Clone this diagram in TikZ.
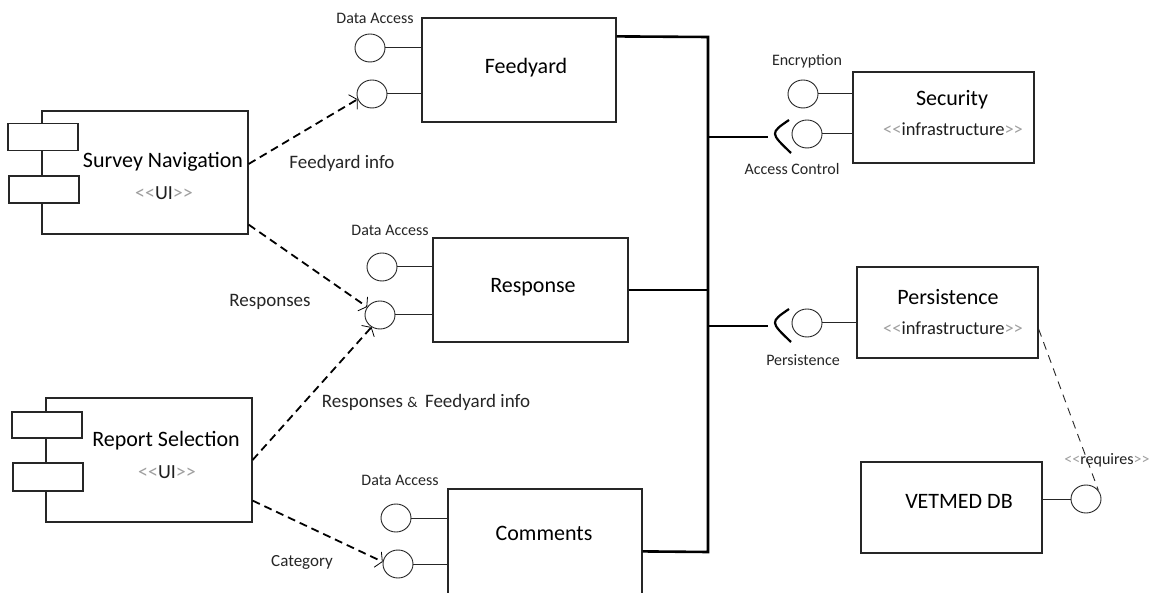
\documentclass[tikz,border=0pt]{standalone}
\usepackage{fontspec}
\setmainfont{Carlito}
\usetikzlibrary{arrows.meta,shapes.geometric,calc}
\newcommand\stereo[1]{{\color{gray!75}<{}<}{\color{black!88}#1}{\color{gray!75}>{}>}}
\begin{document}
\begin{tikzpicture}[x=1pt,y=-1pt,
  box/.style={draw=black!85,line width=1.2pt,fill=white,inner sep=0pt,rectangle},
  tab/.style={draw=black!85,line width=1.2pt,fill=white,inner sep=0pt,rectangle,minimum width=70,minimum height=27},
  iface/.style={draw=black!85,line width=0.9pt,ellipse,minimum width=30,minimum height=28,inner sep=0pt,fill=white},
  title/.style={font=\fontsize{22}{24}\selectfont,inner sep=0pt},
  stlab/.style={font=\fontsize{20}{22}\selectfont,inner sep=0pt},
  small/.style={font=\fontsize{16}{18}\selectfont,text=black!85,inner sep=0pt},
  mid/.style={font=\fontsize{19}{21}\selectfont,text=black!85,inner sep=0pt},
  lnk/.style={draw=black!85,line width=1pt},
  bus/.style={draw=black,line width=2.6pt},
  sock/.style={draw=black,line width=2.2pt},
  dep/.style={draw=black,line width=1.8pt,dash pattern=on 8pt off 5pt,
    -{Straight Barb[length=5pt,width=17pt,line width=0.8pt]}},
  req/.style={draw=black!85,line width=0.9pt,dash pattern=on 8pt off 6pt}
]
\clip (0,0) rectangle (1151,593);
\fill[white] (0,0) rectangle (1151,593);

% UI components
\node[box,minimum width=206,minimum height=123] (sn) at (145,172.5) {};
\node[tab] (snt1) at (43,137) {};
\node[tab] (snt2) at (44,189.5) {};
\node[title] (snl) at (163,162) {Survey Navigation};
\node[stlab] (sns) at (164,193) {\stereo{UI}};

\node[box,minimum width=206,minimum height=124] (rs) at (149,460) {};
\node[tab,minimum height=26] (rst1) at (47,425) {};
\node[tab,minimum height=28] (rst2) at (48,477) {};
\node[title] (rsl) at (166,441) {Report Selection};
\node[stlab] (rss) at (167,472) {\stereo{UI}};

% business components
\node[box,minimum width=194,minimum height=104] (fy) at (519,70) {};
\node[title] (fyl) at (526,68) {Feedyard};
\node[box,minimum width=195,minimum height=104] (rp) at (530.5,290) {};
\node[title] (rpl) at (533,287) {Response};
\node[box,minimum width=194,minimum height=111] (cm) at (545,544.5) {};
\node[title] (cml) at (544,533) {Comments};

% infrastructure
\node[box,minimum width=181,minimum height=91] (sec) at (943.5,117.5) {};
\node[title] (secl) at (952,100) {Security};
\node[stlab,font=\fontsize{18.5}{20}\selectfont] (secs) at (953,129) {\stereo{infrastructure}};
\node[box,minimum width=181,minimum height=91] (per) at (947.5,312.5) {};
\node[title] (perl) at (948,297) {Persistence};
\node[stlab,font=\fontsize{18.5}{20}\selectfont] (pers) at (953,328) {\stereo{infrastructure}};
\node[box,minimum width=181,minimum height=91] (db) at (951.5,507.5) {};
\node[title] (dbl) at (959,501) {VETMED DB};

% interfaces
\node[iface] (fy1) at (370,48) {};
\node[iface] (fy2) at (372,94) {};
\node[iface] (rp1) at (382,267) {};
\node[iface] (rp2) at (380,315) {};
\node[iface] (cm1) at (396,518) {};
\node[iface] (cm2) at (398,564) {};
\node[iface] (enc) at (803,94) {};
\node[iface] (ac) at (807,134) {};
\node[iface] (pc) at (807,323) {};
\node[iface] (dbc) at (1086,499) {};

\draw[lnk] (fy1.east) -- (fy1.east -| fy.west);
\draw[lnk] (fy2.east) -- (fy2.east -| fy.west);
\draw[lnk] (rp1.east) -- (rp1.east -| rp.west);
\draw[lnk] (rp2.east) -- (rp2.east -| rp.west);
\draw[lnk] (cm1.east) -- (cm1.east -| cm.west);
\draw[lnk] (cm2.east) -- (cm2.east -| cm.west);
\draw[lnk] (enc.east) -- (enc.east -| sec.west);
\draw[lnk] (ac.east) -- (ac.east -| sec.west);
\draw[lnk] (pc.east) -- (pc.east -| per.west);
\draw[lnk] (dbc.west) -- (dbc.west -| db.east);

% interface labels
\node[small] (fyda) at (375,18) {Data Access};
\node[small] (rpda) at (390,230) {Data Access};
\node[small] (cmda) at (400,480) {Data Access};
\node[small] (encl) at (807,61) {Encryption};
\node[small] (acl) at (792,169) {Access Control};
\node[small] (pcl) at (803,360) {Persistence};
\node[small,text=black!75] (reql) at (1107,460) {\stereo{requires}};

% bus
\coordinate (fyo) at ([yshift=-19pt]fy.north east);
\coordinate (cmo) at ([yshift=-63pt]cm.north east);
\coordinate (bt) at (708,37);
\coordinate (bb) at (708,552);
\coordinate (acs) at (768,137);
\coordinate (pcs) at (768,326);
\draw[bus,line join=miter] (fyo) -- (bt) -- (bb) -- (cmo);
\draw[bus] (rp.east) -- (rp.east -| bt);
\draw[bus] (acs -| bt) -- (acs);
\draw[bus] (pcs -| bt) -- (pcs);

% sockets
\draw[sock] (789,120) .. controls (770,133) .. (791,153);
\draw[sock] (789,309) .. controls (770,322) .. (791,342);

% dependencies
\coordinate (snA) at ([yshift=8.5pt]sn.east);
\coordinate (snB) at ([yshift=10pt]sn.south east);
\coordinate (rsA) at (rs.east);
\coordinate (rsB) at ([yshift=22pt]rs.south east);
\draw[dep] (snA) -- (fy2.200);
\draw[dep] (snB) -- (rp2.148);
\draw[dep] (rsA) -- (rp2.235);
\draw[dep] (rsB) -- (cm2.172);

\node[mid] (l1) at (342,163) {Feedyard info};
\node[mid] (l2) at (270,302) {Responses};
\node[mid] (l3) at (426,402) {Responses {\fontsize{15}{16}\selectfont\&}\, Feedyard info};
\node[mid,font=\fontsize{17}{18}\selectfont] (l4) at (302,562) {Category};

% requires
\coordinate (perA) at ([yshift=-16.5pt]per.east);
\draw[req] (perA) -- (dbc.35);
\end{tikzpicture}
\end{document}
